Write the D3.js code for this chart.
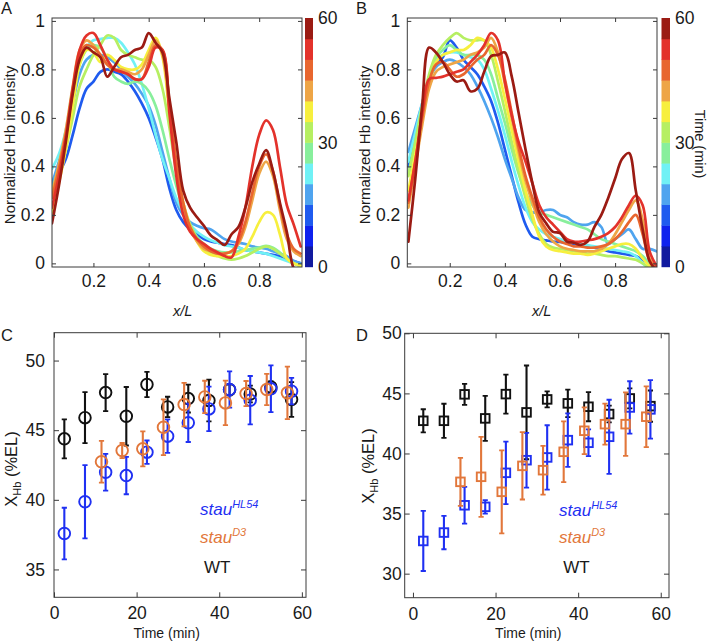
<!DOCTYPE html>
<html><head><meta charset="utf-8">
<script src="https://cdn.jsdelivr.net/npm/d3@7/dist/d3.min.js"></script>
<style>
body{margin:0;background:#fff}
svg{display:block}
text{font-family:"Liberation Sans",Arial,Helvetica,sans-serif;fill:#1a1a1a}
</style>
</head><body>
<svg id="c" width="708" height="642"></svg>
<script>
// ---------------- DATA ----------------
const profileX = [0.05,0.075,0.1,0.125,0.15,0.175,0.2,0.225,0.25,0.275,0.3,0.325,0.35,0.375,0.4,0.425,0.45,0.475,0.5,0.525,0.55,0.575,0.6,0.625,0.65,0.675,0.7,0.725,0.75,0.775,0.8,0.825,0.85,0.875,0.9,0.925,0.95];
const levelColors = ["#111a9f","#0f22ee","#1f5bef","#4fa4ef","#70f1f5","#88ef9c","#b6ef62","#f7ef3e","#eea546","#e8662f","#e3322b","#9b1b13"];
const colorbarTicks = [0,30,60];
const profileLevels = [3,4,5,6,7,8,9,10,11,12];

const profilesA = [
 [0.31,0.37,0.43,0.53,0.64,0.72,0.75,0.79,0.80,0.79,0.78,0.75,0.71,0.66,0.60,0.52,0.43,0.31,0.22,0.17,0.14,0.12,0.10,0.09,0.085,0.08,0.075,0.065,0.055,0.05,0.045,0.04,0.035,0.03,0.02,0.01,0.0],
 [0.33,0.42,0.52,0.66,0.78,0.84,0.86,0.86,0.85,0.83,0.80,0.77,0.74,0.70,0.65,0.57,0.46,0.35,0.25,0.20,0.17,0.155,0.145,0.14,0.12,0.10,0.09,0.085,0.08,0.07,0.065,0.06,0.05,0.04,0.03,0.01,0.0],
 [0.39,0.45,0.55,0.72,0.84,0.89,0.92,0.925,0.93,0.93,0.91,0.87,0.82,0.74,0.64,0.53,0.43,0.35,0.27,0.21,0.16,0.13,0.11,0.095,0.085,0.075,0.07,0.065,0.055,0.05,0.045,0.04,0.03,0.02,0.01,0.0,-0.01],
 [0.30,0.40,0.52,0.68,0.82,0.88,0.90,0.89,0.84,0.77,0.75,0.74,0.75,0.74,0.71,0.65,0.55,0.43,0.32,0.23,0.16,0.11,0.08,0.06,0.05,0.045,0.045,0.05,0.055,0.06,0.065,0.072,0.065,0.045,0.02,0.0,-0.01],
 [0.27,0.36,0.47,0.60,0.73,0.80,0.86,0.90,0.94,0.93,0.88,0.86,0.85,0.84,0.84,0.81,0.72,0.56,0.38,0.25,0.16,0.10,0.06,0.04,0.03,0.02,0.015,0.02,0.03,0.045,0.06,0.07,0.06,0.04,0.02,0.0,-0.01],
 [0.21,0.33,0.47,0.65,0.82,0.88,0.87,0.83,0.86,0.84,0.81,0.80,0.80,0.82,0.88,0.93,0.85,0.62,0.40,0.25,0.15,0.09,0.05,0.035,0.03,0.03,0.03,0.04,0.06,0.11,0.17,0.21,0.20,0.12,0.02,0.0,-0.01],
 [0.29,0.41,0.55,0.73,0.88,0.92,0.90,0.86,0.82,0.80,0.80,0.79,0.78,0.80,0.86,0.92,0.86,0.64,0.40,0.24,0.14,0.09,0.06,0.05,0.04,0.04,0.05,0.08,0.15,0.26,0.37,0.42,0.36,0.22,0.10,0.05,0.03],
 [0.27,0.39,0.53,0.71,0.86,0.90,0.89,0.86,0.82,0.80,0.79,0.78,0.76,0.76,0.83,0.90,0.88,0.66,0.42,0.25,0.15,0.10,0.07,0.05,0.04,0.04,0.05,0.09,0.17,0.29,0.40,0.45,0.38,0.24,0.12,0.06,0.04],
 [0.23,0.36,0.52,0.72,0.88,0.94,0.95,0.90,0.84,0.80,0.79,0.78,0.76,0.76,0.81,0.89,0.88,0.62,0.36,0.20,0.13,0.10,0.08,0.06,0.045,0.03,0.025,0.11,0.23,0.40,0.53,0.59,0.55,0.40,0.24,0.16,0.07],
 [0.165,0.32,0.50,0.70,0.84,0.89,0.87,0.85,0.77,0.81,0.85,0.86,0.88,0.89,0.95,0.91,0.87,0.68,0.50,0.30,0.23,0.19,0.155,0.115,0.095,0.076,0.12,0.15,0.23,0.335,0.41,0.467,0.38,0.25,0.13,-0.02,-0.05]
];

const profilesB = [
 [0.40,0.52,0.64,0.76,0.82,0.85,0.92,0.89,0.84,0.81,0.78,0.73,0.67,0.58,0.47,0.36,0.25,0.16,0.11,0.10,0.095,0.09,0.088,0.085,0.08,0.075,0.07,0.065,0.06,0.05,0.045,0.04,0.035,0.03,0.015,0.0,-0.01],
 [0.46,0.56,0.66,0.76,0.81,0.83,0.84,0.83,0.81,0.78,0.73,0.67,0.60,0.52,0.43,0.35,0.27,0.22,0.21,0.21,0.22,0.22,0.20,0.19,0.17,0.16,0.16,0.17,0.15,0.08,0.10,0.12,0.14,0.10,0.06,0.06,0.05],
 [0.42,0.54,0.66,0.77,0.84,0.86,0.87,0.87,0.86,0.85,0.84,0.80,0.72,0.63,0.53,0.42,0.32,0.23,0.17,0.14,0.12,0.11,0.10,0.09,0.085,0.08,0.075,0.07,0.065,0.06,0.055,0.05,0.045,0.03,0.0,-0.02,-0.03],
 [0.37,0.50,0.64,0.77,0.85,0.88,0.90,0.88,0.86,0.86,0.86,0.84,0.78,0.68,0.58,0.47,0.37,0.29,0.24,0.21,0.20,0.19,0.18,0.17,0.16,0.15,0.14,0.12,0.10,0.09,0.08,0.07,0.06,0.05,0.03,0.0,-0.01],
 [0.36,0.50,0.65,0.78,0.86,0.90,0.93,0.95,0.93,0.92,0.92,0.92,0.86,0.75,0.63,0.50,0.38,0.27,0.18,0.12,0.08,0.065,0.06,0.055,0.05,0.045,0.04,0.04,0.035,0.03,0.03,0.025,0.02,0.015,0.0,-0.02,-0.03],
 [0.30,0.45,0.60,0.74,0.83,0.86,0.87,0.88,0.88,0.90,0.93,0.92,0.89,0.80,0.68,0.55,0.42,0.30,0.20,0.11,0.07,0.055,0.05,0.045,0.04,0.04,0.035,0.04,0.05,0.06,0.07,0.08,0.08,0.06,0.02,-0.01,-0.02],
 [0.23,0.40,0.57,0.72,0.79,0.81,0.82,0.83,0.84,0.86,0.87,0.89,0.93,0.87,0.74,0.60,0.46,0.34,0.25,0.17,0.12,0.09,0.07,0.06,0.055,0.05,0.05,0.05,0.06,0.08,0.12,0.17,0.22,0.26,0.18,0.02,-0.02],
 [0.25,0.42,0.60,0.75,0.82,0.83,0.80,0.77,0.78,0.81,0.84,0.86,0.90,0.86,0.76,0.62,0.48,0.36,0.27,0.19,0.14,0.11,0.09,0.08,0.07,0.07,0.065,0.065,0.07,0.08,0.10,0.13,0.17,0.20,0.12,0.01,-0.02],
 [0.26,0.42,0.62,0.76,0.765,0.77,0.78,0.79,0.80,0.83,0.86,0.90,0.95,0.92,0.75,0.61,0.50,0.42,0.33,0.24,0.19,0.16,0.13,0.10,0.09,0.09,0.095,0.10,0.11,0.125,0.15,0.19,0.24,0.28,0.24,0.05,-0.01],
 [0.09,0.35,0.65,0.89,0.87,0.83,0.78,0.75,0.755,0.71,0.72,0.79,0.855,0.86,0.87,0.77,0.62,0.47,0.33,0.21,0.165,0.13,0.125,0.09,0.085,0.076,0.09,0.15,0.20,0.27,0.35,0.43,0.455,0.30,0.14,0.01,-0.03]
];

const timesMain = [2.5,7.5,12.5,17.5,22.5,27.5,32.5,37.5,42.5,47.5,52.5,57.5];
const timesD3 = [11.5,16.5,21.5,26.5,31.5,36.5,41.5,46.5,51.5,56.5];

const cWT = [44.38,45.9,47.7,46.0,48.28,46.67,47.27,47.13,47.9,47.6,48.1,47.2];
const cWTerr = [1.4,1.83,1.33,2.1,0.9,0.73,1.0,1.5,0.4,0.6,0.4,1.25];
const cHL54 = [37.58,39.86,41.98,41.74,43.42,44.57,45.53,46.53,47.92,47.15,47.97,47.8];
const cHL54err = [1.85,2.63,1.32,1.34,0.84,1.2,1.38,1.6,1.3,1.74,1.68,0.95];
const cD3 = [42.73,43.54,43.66,45.21,46.84,47.39,46.96,47.63,47.92,47.68];
const cD3err = [1.5,0.54,1.26,2.0,1.56,1.16,1.6,0.9,1.12,1.88];

const dWT = [42.72,42.72,44.92,42.92,44.94,43.42,44.5,44.17,43.89,43.28,44.58,43.94];
const dWTerr = [0.96,1.42,0.87,1.87,1.62,3.9,0.66,1.14,1.21,0.7,0.83,1.3];
const dHL54 = [32.72,33.42,35.69,35.56,38.39,39.44,39.67,41.11,40.89,41.39,43.83,43.67];
const dHL54err = [2.5,1.39,1.53,0.56,2.6,2.28,2.68,2.22,1.11,3.08,2.18,2.44];
const dD3 = [37.64,38.06,36.81,38.97,38.61,40.14,41.89,42.44,42.44,43.06];
const dD3err = [2.0,3.33,3.45,2.8,2.03,2.53,1.95,1.71,2.64,2.53];

const profileXTicks = [0.2,0.4,0.6,0.8];
const profileYTicks = [0,0.2,0.4,0.6,0.8,1];
const timeTicks = [0,20,40,60];
const cYTicks = [35,40,45,50];
const dYTicks = [30,35,40,45,50];

const COL_BLUE = "#1f30f2", COL_ORANGE = "#e2773b", COL_BLACK = "#111111";
const AXC = "#3a3a3a";

// ---------------- DRAW ----------------
const svg = d3.select("#c");
svg.append("rect").attr("width",708).attr("height",642).attr("fill","#fff");
const defs = svg.append("defs");
let clipN = 0;

function styleAxis(g, fs){
  g.select(".domain").remove();
  g.selectAll(".tick line").attr("stroke", AXC).attr("stroke-width",1);
  g.selectAll(".tick text").attr("fill","#1a1a1a").style("font-size", fs+"px")
    .style("font-family",'"Liberation Sans",Arial,Helvetica,sans-serif');
}

function frame(b, x, y, xt, yt, opt){
  const g = svg.append("g");
  const fs = opt.fs;
  const gb = g.append("g").attr("transform",`translate(0,${b.bottom})`)
    .call(d3.axisBottom(x).tickValues(xt).tickSize(-opt.tl).tickPadding(opt.xpad).tickFormat(opt.xfmt));
  styleAxis(gb, fs);
  const gt = g.append("g").attr("transform",`translate(0,${b.top})`)
    .call(d3.axisTop(x).tickValues(xt).tickSize(-opt.tl).tickFormat(""));
  styleAxis(gt, fs);
  const gl = g.append("g").attr("transform",`translate(${b.left},0)`)
    .call(d3.axisLeft(y).tickValues(yt).tickSize(-opt.tl).tickPadding(opt.ypad).tickFormat(opt.yfmt));
  styleAxis(gl, fs);
  const gr = g.append("g").attr("transform",`translate(${b.right},0)`)
    .call(d3.axisRight(y).tickValues(yt).tickSize(-opt.tl).tickFormat(""));
  styleAxis(gr, fs);
  g.append("rect").attr("x",b.left).attr("y",b.top).attr("width",b.right-b.left).attr("height",b.bottom-b.top)
    .attr("fill","none").attr("stroke",AXC).attr("stroke-width",1);
}

function clipFor(b){
  const id = "clip"+(clipN++);
  defs.append("clipPath").attr("id",id).append("rect")
    .attr("x",b.left).attr("y",b.top).attr("width",b.right-b.left).attr("height",b.bottom-b.top);
  return `url(#${id})`;
}

function profilePanel(b, xDomain, data, cb){
  const x = d3.scaleLinear().domain(xDomain).range([b.left,b.right]);
  const y = d3.scaleLinear().domain([-0.015,1.012]).range([b.bottom,b.top]);
  const g = svg.append("g").attr("clip-path", clipFor(b));
  const line = d3.line().x((d,i)=>x(profileX[i])).y(d=>y(d)).curve(d3.curveCatmullRom.alpha(0.5));
  data.forEach((row,k)=>{
    g.append("path").attr("d",line(row)).attr("fill","none")
     .attr("stroke",levelColors[profileLevels[k]-1]).attr("stroke-width",2.7)
     .attr("stroke-linejoin","round").attr("stroke-linecap","round");
  });
  frame(b, x, y, profileXTicks, profileYTicks, {fs:17.5, tl:4, xpad:8, ypad:7, xfmt:d=>String(d), yfmt:d=>String(d)});
  // colorbar
  const cy = d3.scaleLinear().domain([0,60]).range([b.bottom-0.3, b.top]);
  const edges = d3.range(levelColors.length).map(i=>i*5);
  svg.append("g").selectAll("rect").data(edges).join("rect")
    .attr("x",cb.x).attr("width",cb.w)
    .attr("y",d=>cy(d+5)).attr("height",d=>cy(d)-cy(d+5)+0.5)
    .attr("fill",(d,i)=>levelColors[i]);
  svg.append("g").selectAll("text").data(colorbarTicks).join("text")
    .attr("x",cb.x+cb.w+5).attr("y",d=>cy(d)).attr("dy","0.36em")
    .style("font-size","17.5px").text(d=>d);
}

profilePanel({left:52,right:302,top:18,bottom:267},[0.05,0.955],profilesA,{x:305,w:8});
profilePanel({left:407.3,right:657,top:18,bottom:267},[0.046,0.952],profilesB,{x:661.5,w:8.5});

function scatterPanel(b, xDomain, yDomain, yTicks, series, shape, ypad, xpad){
  const x = d3.scaleLinear().domain(xDomain).range([b.left,b.right]);
  const y = d3.scaleLinear().domain(yDomain).range([b.bottom,b.top]);
  const g = svg.append("g").attr("clip-path", clipFor(b));
  series.forEach(s=>{
    const sg = g.append("g");
    s.t.forEach((t,i)=>{
      const cx = x(t), v = s.v[i], e = s.e[i];
      sg.append("line").attr("x1",cx).attr("x2",cx).attr("y1",y(v-e)).attr("y2",y(v+e))
        .attr("stroke",s.color).attr("stroke-width",2.1);
      [v-e, v+e].forEach(w=>{
        sg.append("line").attr("x1",cx-2.6).attr("x2",cx+2.6).attr("y1",y(w)).attr("y2",y(w))
          .attr("stroke",s.color).attr("stroke-width",1.8);
      });
      if(shape==="circle"){
        sg.append("circle").attr("cx",cx).attr("cy",y(v)).attr("r",5.8)
          .attr("fill","none").attr("stroke",s.color).attr("stroke-width",1.9);
      } else {
        sg.append("rect").attr("x",cx-4.3).attr("y",y(v)-4.3).attr("width",8.6).attr("height",8.6)
          .attr("fill","none").attr("stroke",s.color).attr("stroke-width",1.9);
      }
    });
  });
  frame(b, x, y, timeTicks, yTicks, {fs:17.5, tl:5, xpad:xpad, ypad:ypad, xfmt:d=>String(d), yfmt:d=>String(d)});
}

scatterPanel({left:54,right:306,top:332.7,bottom:597.3},[0,61],[33,52],cYTicks,[
  {t:timesMain, v:cWT, e:cWTerr, color:COL_BLACK},
  {t:timesMain, v:cHL54, e:cHL54err, color:COL_BLUE},
  {t:timesD3, v:cD3, e:cD3err, color:COL_ORANGE}
],"circle",9,9.4);

scatterPanel({left:404.7,right:669,top:333.3,bottom:597.7},[-2,62],[28,50],dYTicks,[
  {t:timesMain, v:dWT, e:dWTerr, color:COL_BLACK},
  {t:timesMain, v:dHL54, e:dHL54err, color:COL_BLUE},
  {t:timesD3, v:dD3, e:dD3err, color:COL_ORANGE}
],"square",3,10);

// ---------------- TEXT ----------------
function txt(x,y,s,size,opts){
  const t = svg.append("text").attr("x",x).attr("y",y).style("font-size",size+"px").text(s);
  if(opts){ if(opts.anchor) t.attr("text-anchor",opts.anchor);
    if(opts.italic) t.style("font-style","italic");
    if(opts.fill) t.attr("fill",opts.fill);
    if(opts.rot!==undefined) t.attr("x",0).attr("y",0).attr("transform",`translate(${x},${y}) rotate(${opts.rot})`); }
  return t;
}
// panel letters
txt(1,13.5,"A",16.5); txt(356,13.5,"B",16.5);
txt(1,340.5,"C",16.5); txt(356,340.5,"D",16.5);
// y labels top
txt(15,145,"Normalized Hb intensity",15,{anchor:"middle",rot:-90});
txt(369.5,145,"Normalized Hb intensity",15,{anchor:"middle",rot:-90});
// x/L
txt(182.7,316,"x/L",14.5,{anchor:"middle",italic:true});
txt(541.7,316,"x/L",14.5,{anchor:"middle",italic:true});
// colorbar label B
txt(694.5,144,"Time (min)",14.5,{anchor:"middle",rot:90});
// Time (min)
txt(166.7,638,"Time (min)",14,{anchor:"middle"});
txt(528.3,638,"Time (min)",14,{anchor:"middle"});
// y labels bottom
function xhb(x,y){
  const t = svg.append("text").attr("text-anchor","middle").attr("transform",`translate(${x},${y}) rotate(-90)`).style("font-size","16.5px");
  t.append("tspan").text("X");
  t.append("tspan").attr("dy",4).style("font-size","11px").text("Hb");
  t.append("tspan").attr("dy",-4).text(" (%EL)");
}
xhb(16.5,469); xhb(373.5,466);
// legends
function legend(x,y,base,sup,color){
  const t = svg.append("text").attr("x",x).attr("y",y).attr("fill",color).style("font-size","17px").style("font-style","italic");
  t.append("tspan").attr("fill",color).text(base);
  t.append("tspan").attr("fill",color).attr("dy",-7).style("font-size","11px").text(sup);
}
legend(200,515,"stau","HL54",COL_BLUE);
legend(200,542.7,"stau","D3",COL_ORANGE);
txt(204,573.3,"WT",17,{fill:COL_BLACK});
legend(559,516,"stau","HL54",COL_BLUE);
legend(559,543.3,"stau","D3",COL_ORANGE);
txt(563.3,573.3,"WT",17,{fill:COL_BLACK});
</script>
</body></html>
